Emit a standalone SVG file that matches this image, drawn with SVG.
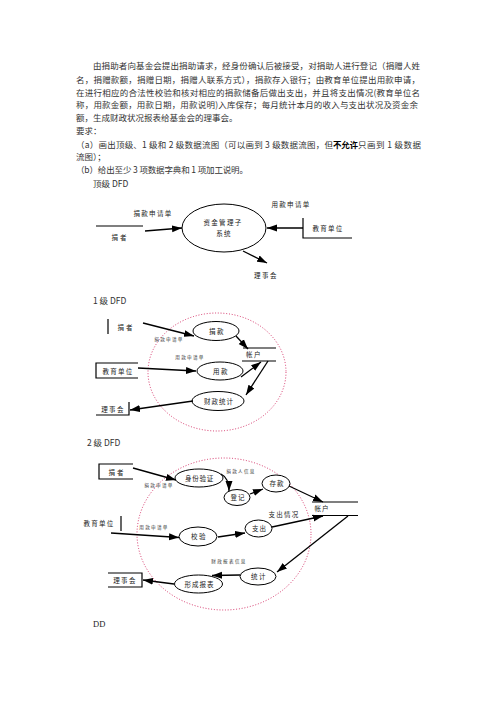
<svg xmlns="http://www.w3.org/2000/svg" width="496" height="702" viewBox="0 0 496 702">
<defs>
<marker id="ah" markerUnits="userSpaceOnUse" markerWidth="11" markerHeight="8" refX="10" refY="4" orient="auto">
<path d="M0,0.5 L10,4 L0,7.5 Z" fill="#000"/>
</marker>
</defs>
<style>
.p{font-family:"Noto Sans CJK SC","Liberation Serif",serif;font-size:8.5px;fill:#333}
.h{font-family:"Liberation Serif","Noto Sans CJK SC",serif;font-size:8.5px;fill:#222}
.l{font-family:"Noto Sans CJK SC",sans-serif;font-size:6.5px;fill:#222;text-anchor:middle}
.s{font-family:"Noto Sans CJK SC",sans-serif;font-size:4.6px;fill:#333;text-anchor:middle}
.ln{stroke:#000;stroke-width:1.2;fill:none}
.ar{stroke:#000;stroke-width:1.3;fill:none;marker-end:url(#ah)}
.el{stroke:#000;stroke-width:1;fill:#fff}
.dot{stroke:#d0205a;stroke-width:0.9;fill:none;stroke-dasharray:1 1.8}
</style>
<rect width="496" height="702" fill="#fff"/>
<g id="text">
<text class="p" x="93" y="69" textLength="327" lengthAdjust="spacing">由捐助者向基金会提出捐助请求，经身份确认后被接受，对捐助人进行登记（捐赠人姓</text>
<text class="p" x="76" y="82.5" textLength="344" lengthAdjust="spacing">名，捐赠款额，捐赠日期，捐赠人联系方式），捐款存入银行；由教育单位提出用款申请，</text>
<text class="p" x="76" y="95.5" textLength="344" lengthAdjust="spacing">在进行相应的合法性校验和核对相应的捐款储备后做出支出，并且将支出情况(教育单位名</text>
<text class="p" x="76" y="108" textLength="342" lengthAdjust="spacing">称，用款金额，用款日期，用款说明)入库保存；每月统计本月的收入与支出状况及资金余</text>
<text class="p" x="76" y="121">额，生成财政状况报表给基金会的理事会。</text>
<text class="p" x="76" y="134">要求：</text>
<text class="p" x="76" y="147.5" textLength="257" lengthAdjust="spacing">（a）画出顶级、1 级和 2 级数据流图（可以画到 3 级数据流图，但</text>
<text class="p" x="333" y="147.5" font-weight="bold" textLength="25" lengthAdjust="spacing" style="fill:#000">不允许</text>
<text class="p" x="358" y="147.5" textLength="63" lengthAdjust="spacing">只画到 1 级数据</text>
<text class="p" x="76" y="160">流图）；</text>
<text class="p" x="76" y="173" textLength="172" lengthAdjust="spacing">（b）给出至少 3 项数据字典和 1 项加工说明。</text>
<text class="p" x="93" y="186.5">顶级 DFD</text>
<text class="p" x="93" y="304">1 级 DFD</text>
<text class="p" x="87" y="446">2 级 DFD</text>
<text class="h" x="93" y="627">DD</text>
</g>

<!-- Top-level DFD -->
<g id="top-donor">
<line class="ln" x1="96" y1="226" x2="143" y2="226"/>
<text class="l" x="120" y="240" letter-spacing="2">捐者</text>
</g>
<g id="top-system">
<ellipse class="el" cx="224" cy="228" rx="42" ry="24"/>
<text class="l" x="223" y="225" letter-spacing="1.3">资金管理子</text>
<text class="l" x="224" y="236" letter-spacing="1.3">系统</text>
</g>
<g id="top-edu">
<polyline class="ln" points="303,218 303,238 352,238"/>
<text class="l" x="328" y="231" letter-spacing="1.3">教育单位</text>
</g>
<g id="top-board">
<text class="l" x="266" y="278" letter-spacing="1.5">理事会</text>
</g>

<!-- Level 1 DFD -->
<g id="l1-donor">
<line class="ln" x1="108" y1="319" x2="108" y2="334"/>
<text class="l" x="126" y="330" letter-spacing="2">捐者</text>
</g>
<g id="l1-edu">
<polyline class="ln" points="138,363 96,363 96,378 138,378"/>
<text class="l" x="118" y="374" letter-spacing="1.3">教育单位</text>
</g>
<g id="l1-board">
<polyline class="ln" points="96,415 129,415 129,402"/>
<text class="l" x="113" y="412" letter-spacing="1.3">理事会</text>
</g>
<g id="l1-boundary">
<ellipse class="dot" cx="217" cy="372" rx="69" ry="59"/>
</g>
<g id="l1-juankuan">
<ellipse class="el" cx="216" cy="331" rx="23" ry="9.5"/>
<text class="l" x="217" y="333.5" letter-spacing="1.5">捐款</text>
</g>
<g id="l1-yongkuan">
<ellipse class="el" cx="220" cy="371" rx="23" ry="9"/>
<text class="l" x="221" y="373.5" letter-spacing="1.5">用款</text>
</g>
<g id="l1-tongji">
<ellipse class="el" cx="218" cy="401" rx="26" ry="9.5"/>
<text class="l" x="219" y="403.5" letter-spacing="1">财政统计</text>
</g>
<g id="l1-account">
<line class="ln" x1="243" y1="348" x2="276" y2="348"/>
<line class="ln" x1="242" y1="361" x2="276" y2="361"/>
<text class="l" x="254" y="357" letter-spacing="1.5">帐户</text>
</g>

<!-- Level 2 DFD -->
<g id="l2-donor">
<polyline class="ln" points="133,464 99,464 99,479 133,479"/>
<text class="l" x="117" y="474.5" letter-spacing="2">捐者</text>
</g>
<g id="l2-edu">
<line class="ln" x1="121" y1="516" x2="121" y2="531"/>
<text class="l" x="99" y="526" letter-spacing="1.3">教育单位</text>
</g>
<g id="l2-board">
<polyline class="ln" points="108,573 142,573 142,587 108,587"/>
<text class="l" x="125" y="582.5" letter-spacing="1.3">理事会</text>
</g>
<g id="l2-boundary">
<ellipse class="dot" cx="224" cy="534" rx="87" ry="76"/>
</g>
<g id="l2-verify">
<ellipse class="el" cx="199" cy="478" rx="24" ry="9"/>
<text class="l" x="199.5" y="480.5" letter-spacing="0.8">身份验证</text>
</g>
<g id="l2-register">
<ellipse class="el" cx="237" cy="497.5" rx="13" ry="8"/>
<text class="l" x="238" y="500" letter-spacing="1">登记</text>
</g>
<g id="l2-deposit">
<ellipse class="el" cx="276" cy="483.5" rx="14" ry="8.5"/>
<text class="l" x="277" y="486" letter-spacing="1">存款</text>
</g>
<g id="l2-check">
<ellipse class="el" cx="198" cy="536.5" rx="19" ry="9.5"/>
<text class="l" x="199" y="539" letter-spacing="1.5">校验</text>
</g>
<g id="l2-pay">
<ellipse class="el" cx="258.5" cy="528.5" rx="13.5" ry="8.5"/>
<text class="l" x="259.5" y="531" letter-spacing="1">支出</text>
</g>
<g id="l2-stat">
<ellipse class="el" cx="258" cy="576.5" rx="18" ry="8.5"/>
<text class="l" x="259" y="579" letter-spacing="1.5">统计</text>
</g>
<g id="l2-report">
<ellipse class="el" cx="198.5" cy="584" rx="24" ry="9"/>
<text class="l" x="199.5" y="586.5" letter-spacing="1">形成报表</text>
</g>
<g id="l2-account">
<line class="ln" x1="312" y1="502" x2="358" y2="502"/>
<line class="ln" x1="312" y1="515.5" x2="358" y2="515.5"/>
<text class="l" x="322" y="511" letter-spacing="1">帐户</text>
</g>

<g id="connectors">
<!-- top -->
<line class="ar" x1="145" y1="231" x2="182" y2="228"/>
<text class="l" x="153" y="216" letter-spacing="1.3">捐款申请单</text>
<line class="ar" x1="303" y1="228" x2="267" y2="228"/>
<text class="l" x="291" y="207" letter-spacing="1.3">用款申请单</text>
<line class="ar" x1="243" y1="251" x2="267" y2="263"/>
<!-- level 1 -->
<line class="ar" x1="143" y1="323" x2="194" y2="336"/>
<text class="s" x="169" y="341" letter-spacing="1.3">捐款申请单</text>
<line class="ar" x1="236" y1="336" x2="248" y2="349"/>
<text class="s" x="190" y="359" letter-spacing="1.3">用款申请单</text>
<line class="ar" x1="138" y1="368" x2="196" y2="371"/>
<line class="ar" x1="241" y1="377" x2="261" y2="362"/>
<line class="ar" x1="268" y1="361" x2="246" y2="395"/>
<line class="ar" x1="193" y1="401" x2="130" y2="410"/>
<!-- level 2 -->
<line class="ar" x1="133" y1="468" x2="176" y2="480"/>
<text class="s" x="159" y="487" letter-spacing="1.3">捐款申请单</text>
<path class="ar" d="M221,474 Q229,478 229,491"/>
<text class="s" x="241" y="473" letter-spacing="1.3">捐款人信息</text>
<line class="ar" x1="250" y1="494" x2="263" y2="489"/>
<line class="ar" x1="289" y1="486" x2="323" y2="502"/>
<line class="ar" x1="111" y1="533" x2="179" y2="537.5"/>
<text class="s" x="154" y="529" letter-spacing="1.3">用款申请单</text>
<line class="ar" x1="218" y1="537" x2="245" y2="533"/>
<line class="ar" x1="272" y1="527" x2="323" y2="516"/>
<text class="l" x="284" y="517" letter-spacing="1.3">支出情况</text>
<line class="ar" x1="348" y1="516" x2="277" y2="572"/>
<text class="s" x="229" y="563" letter-spacing="1.3">财政报表信息</text>
<line class="ar" x1="240" y1="575" x2="212" y2="575.5"/>
<line class="ar" x1="174" y1="584" x2="143" y2="580"/>
</g>
</svg>
